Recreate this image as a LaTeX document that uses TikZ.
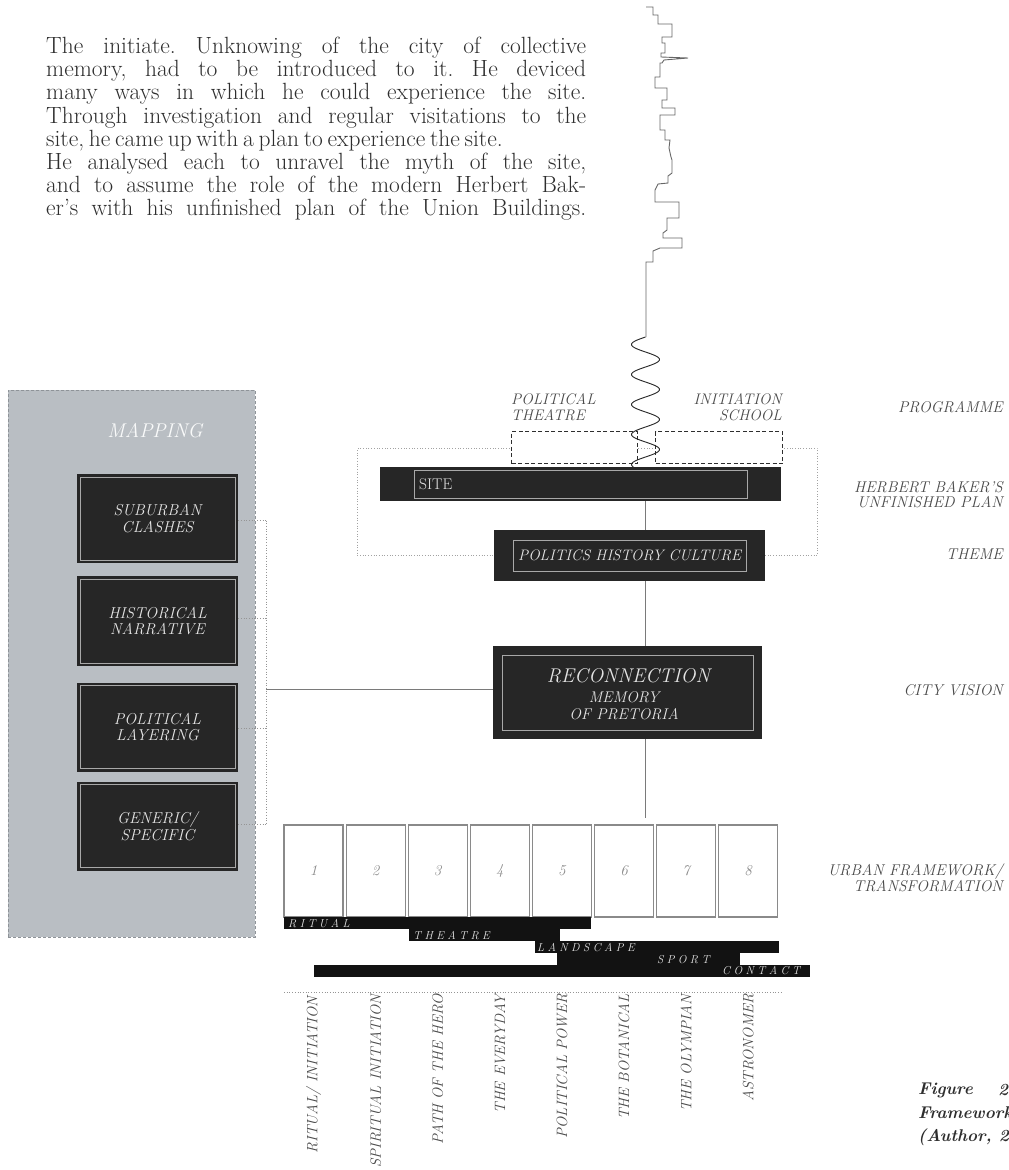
\documentclass[tikz,border=0pt]{standalone}
\usepackage{fontspec}
\usetikzlibrary{calc}
\definecolor{boxdark}{HTML}{262626}
\definecolor{bardark}{HTML}{121212}
\definecolor{panelgray}{HTML}{B9BEC3}
\definecolor{paneledge}{HTML}{8E9398}
\definecolor{labelgray}{HTML}{4A4A4A}
\definecolor{textdark}{HTML}{2E2E2E}
\definecolor{linegray}{HTML}{7A7A7A}
\definecolor{innergray}{HTML}{A8A8A8}
\definecolor{boxtext}{HTML}{E4E4E4}
\definecolor{numgray}{HTML}{8A8A8A}
\frenchspacing
\newcommand\lsp{\kern3.4pt}
\newcommand\introline[2][391.3pt]{\makebox[#1][s]{#2}}
\tikzset{
  darkbox/.style 2 args={fill=boxdark, draw=none, inner sep=0pt,
    path picture={\draw[innergray, line width=0.8pt]
      ([xshift=#1,yshift=#2]path picture bounding box.south west) rectangle
      ([xshift=-#1,yshift=-#2]path picture bounding box.north east);}},
  boxlabel/.style={text=boxtext, font=\itshape\fontsize{15.8}{16.5}\selectfont, align=center, inner sep=0pt},
  sidelabel/.style={text=labelgray, font=\itshape\fontsize{15.6}{15.8}\selectfont, align=right, anchor=east, inner sep=0pt},
  conn/.style={draw=linegray, line width=0.8pt},
  dotconn/.style={draw=linegray!80, line width=0.7pt, dotted},
  numbox/.style={draw=numgray, line width=1.1pt, fill=white, minimum width=59pt, minimum height=92pt, inner sep=0pt,
    text=numgray, font=\itshape\fontsize{15}{16}\selectfont},
  barbox/.style={fill=bardark, draw=none, inner sep=0pt, anchor=north west, minimum height=12.2pt},
  barlabel/.style={text=boxtext, inner sep=0pt, anchor=west,
    font=\itshape\fontsize{11.5}{12}\selectfont},
  vlabel/.style={rotate=90, anchor=east, inner sep=0pt, text=labelgray, font=\itshape\fontsize{15}{15}\selectfont},
  progbox/.style={draw=textdark, line width=1.1pt, dash pattern=on 4pt off 2.5pt, fill=white, anchor=north west, inner sep=0pt},
  prog/.style={text=labelgray, font=\itshape\fontsize{15.3}{15.5}\selectfont, inner sep=0pt},
  caption/.style={anchor=west, inner sep=0pt, text=textdark, font=\bfseries\itshape\fontsize{17}{18}\selectfont}
}
\begin{document}
\begin{tikzpicture}[x=1pt,y=-1pt]
\useasboundingbox (0,0) rectangle (1009,1170);
\clip (0,0) rectangle (1009,1170);
\fill[white] (0,0) rectangle (1009,1170);

% intro text
\node[anchor=north west, inner sep=0pt, text=textdark] (intro) at (46,37) {%
\scalebox{1.38}{\parbox[t]{391.3pt}{\fontsize{17}{16.78}\selectfont
\introline{The initiate. Unknowing of the city of collective}\\
\introline{memory, had to be introduced to it. He deviced}\\
\introline{many ways in which he could experience the site.}\\
\introline{Through investigation and regular visitations to the}\\
\introline[319.6pt]{site, he came up with a plan to experience the site.}\\
\introline{He analysed each to unravel the myth of the site,}\\
\introline{and to assume the role of the modern Herbert Bak-}\\
\introline{er's with his unfinished plan of the Union Buildings.}}}};

% skyline
\draw[draw=black!60, line width=0.9pt, line join=miter]
 (646,7) -- (653,7) -- (653,15) -- (658,15) -- (658,24) -- (672,24) -- (672,37)
 -- (662,37) -- (662,43) -- (665,43) -- (665,53) -- (661,53) -- (661,57) -- (688,58)
 -- (664,60) -- (662,63) -- (660,63) -- (660,77) -- (655,77) -- (655,88) -- (667,88)
 -- (667,100) -- (662,100) -- (662,108) -- (675,108) -- (675,115) -- (660,115)
 -- (660,130) -- (665,130) -- (665,140) -- (670,140) -- (669,148) -- (671,157)
 -- (672,160) -- (672,173) -- (668,176) -- (668,183) -- (658,184) -- (655,190)
 -- (655,202) -- (679,202) -- (679,218) -- (667,218) -- (667,230) -- (663,233)
 -- (663,238) -- (682,238) -- (682,248) -- (660,248) -- (653,251) -- (653,262)
 -- (646,262) -- (646,337);

% Herbert Baker's dotted frame
\node[draw=linegray!70, line width=0.7pt, dotted, anchor=north west, inner sep=0pt,
  minimum width=460pt, minimum height=107pt] (hbp) at (357,448) {};

% programme boxes
\node[progbox, minimum width=126pt, minimum height=32pt] (pt) at (511,431) {};
\node[progbox, minimum width=127pt, minimum height=32pt] (is) at (655,431) {};
\node[prog, anchor=south west, align=left] (ptl) at (511,421) {POLITICAL\\THEATRE};
\node[prog, anchor=south east, align=right] (isl) at (782,421) {INITIATION\\SCHOOL};

% wave
\draw[draw=black!85, line width=0.9pt] plot[domain=0:130, samples=160, smooth]
  ({645.5 - 14*sin(\x*12)}, {337+\x});

\coordinate (axis) at (645,0);

% SITE
\node[darkbox={34pt}{3pt}, anchor=north west, minimum width=401pt, minimum height=34pt] (site) at (380,467) {};
\node[anchor=west, inner sep=0pt, text=boxtext, font=\fontsize{15.5}{16}\selectfont] (sitel) at (419,484.5) {SITE};

% POLITICS HISTORY CULTURE
\node[darkbox={19pt}{10pt}, anchor=north west, minimum width=271pt, minimum height=51pt,
  boxlabel, font=\itshape\fontsize{15.2}{16}\selectfont] (phc) at (494,530) {POLITICS HISTORY CULTURE};

% RECONNECTION
\node[darkbox={9pt}{9pt}, anchor=north west, minimum width=269pt, minimum height=93pt] (recon) at (493,646) {};
\node[boxlabel, font=\itshape\fontsize{17}{18}\selectfont] (reconT) at (628.5,676) {\scalebox{1.17}{RECONNECTION}};
\node[boxlabel, font=\itshape\fontsize{15.5}{16.5}\selectfont] (reconS) at (624,705.5) {MEMORY\\OF PRETORIA};

% axis connectors
\draw[conn] (site.south -| axis) -- (phc.north -| axis);
\draw[conn] (phc.south -| axis) -- (recon.north -| axis);
\coordinate (axisEnd) at (645,818);
\draw[conn] (recon.south -| axis) -- (axisEnd);

% mapping panel
\node[fill=panelgray, draw=paneledge, line width=0.8pt, dash pattern=on 3pt off 2pt,
  anchor=north west, inner sep=0pt, minimum width=247pt, minimum height=547pt] (panel) at (8,390) {};
\node[inner sep=0pt, text=white!92!panelgray, font=\itshape\fontsize{17}{18}\selectfont] (mapT) at (155,431) {\scalebox{1.17}{MAPPING}};

\node[darkbox={3pt}{3pt}, minimum width=161pt, minimum height=89pt, boxlabel] (m1) at (157.5,518.5) {SUBURBAN\\CLASHES};
\node[darkbox={3pt}{3pt}, minimum width=161pt, minimum height=90pt, boxlabel] (m2) at (157.5,621) {HISTORICAL\\NARRATIVE};
\node[darkbox={3pt}{3pt}, minimum width=161pt, minimum height=89pt, boxlabel] (m3) at (157.5,727) {POLITICAL\\LAYERING};
\node[darkbox={3pt}{3pt}, minimum width=161pt, minimum height=89pt, boxlabel] (m4) at (157.5,826) {GENERIC/\\SPECIFIC};

\coordinate (m1c) at (266,520.5);
\coordinate (m2c) at (266,618);
\coordinate (m3c) at (266,728);
\coordinate (m4c) at (266,824);
\draw[dotconn] (m1.east |- m1c) -- (m1c);
\draw[dotconn] (m2.east |- m2c) -- (m2c);
\draw[dotconn] (m3.east |- m3c) -- (m3c);
\draw[dotconn] (m4.east |- m4c) -- (m4c);
\draw[dotconn] (m1c) -- (m4c);
\coordinate (mj) at (266,689);
\draw[conn] (mj) -- (mj -| recon.west);

% numbered boxes
\foreach \i in {1,...,8} {
  \node[numbox] (n\i) at ({313.5+62.1*(\i-1)},871) {\i};
}

% bars
\node[barbox, minimum width=307pt] (bRitual) at (284,917) {};
\node[barbox, minimum width=151pt] (bTheatre) at (409,929) {};
\node[barbox, minimum width=244pt] (bLand) at (535,941) {};
\node[barbox, minimum width=183pt] (bSport) at (557,953) {};
\node[barbox, minimum width=496pt] (bContact) at (314,964.6) {};
\node[barlabel] (lRitual) at (288,923.4) {R\lsp I\lsp T\lsp U\lsp A\lsp L};
\node[barlabel] (lTheatre) at (413,935.4) {T\lsp H\lsp E\lsp A\lsp T\lsp R\lsp E};
\node[barlabel] (lLand) at (537,947.4) {L\lsp A\lsp N\lsp D\lsp S\lsp C\lsp A\lsp P\lsp E};
\node[barlabel] (lSport) at (657,959.4) {S\lsp P\lsp O\lsp R\lsp T};
\node[barlabel] (lContact) at (722,971) {C\lsp O\lsp N\lsp T\lsp A\lsp C\lsp T};

% dotted separator
\coordinate (sepL) at (284,992);
\coordinate (sepR) at (782,992);
\draw[dotconn] (sepL) -- (sepR);

% vertical labels
\node[vlabel] (v1) at (n1.center |- 0,996) {RITUAL/ INITIATION};
\node[vlabel] (v2) at (n2.center |- 0,994) {SPIRITUAL INITIATION};
\node[vlabel] (v3) at (n3.center |- 0,994) {PATH OF THE HERO};
\node[vlabel] (v4) at (n4.center |- 0,994) {THE EVERYDAY};
\node[vlabel] (v5) at (n5.center |- 0,994) {POLITICAL POWER};
\node[vlabel] (v6) at (n6.center |- 0,994) {THE BOTANICAL};
\node[vlabel] (v7) at (n7.center |- 0,994) {THE OLYMPIAN};
\node[vlabel] (v8) at (n8.center |- 0,994) {ASTRONOMER};

% right-hand labels
\node[sidelabel] (rProg) at (1003,407) {PROGRAMME};
\node[sidelabel] (rHerb) at (1003,494.5) {HERBERT BAKER'S\\UNFINISHED PLAN};
\node[sidelabel] (rTheme) at (1003,554) {THEME};
\node[sidelabel] (rCity) at (1003,690) {CITY VISION};
\node[sidelabel] (rUrban) at (1003,878) {URBAN FRAMEWORK/\\TRANSFORMATION};

% caption
\node[caption] (figA) at (918,1090) {Figure};
\node[caption] (figN) at (998,1090) {2};
\node[caption] (figB) at (918,1113) {Framework};
\node[caption] (figC) at (918,1137) {(Author, 20};
\end{tikzpicture}
\end{document}
